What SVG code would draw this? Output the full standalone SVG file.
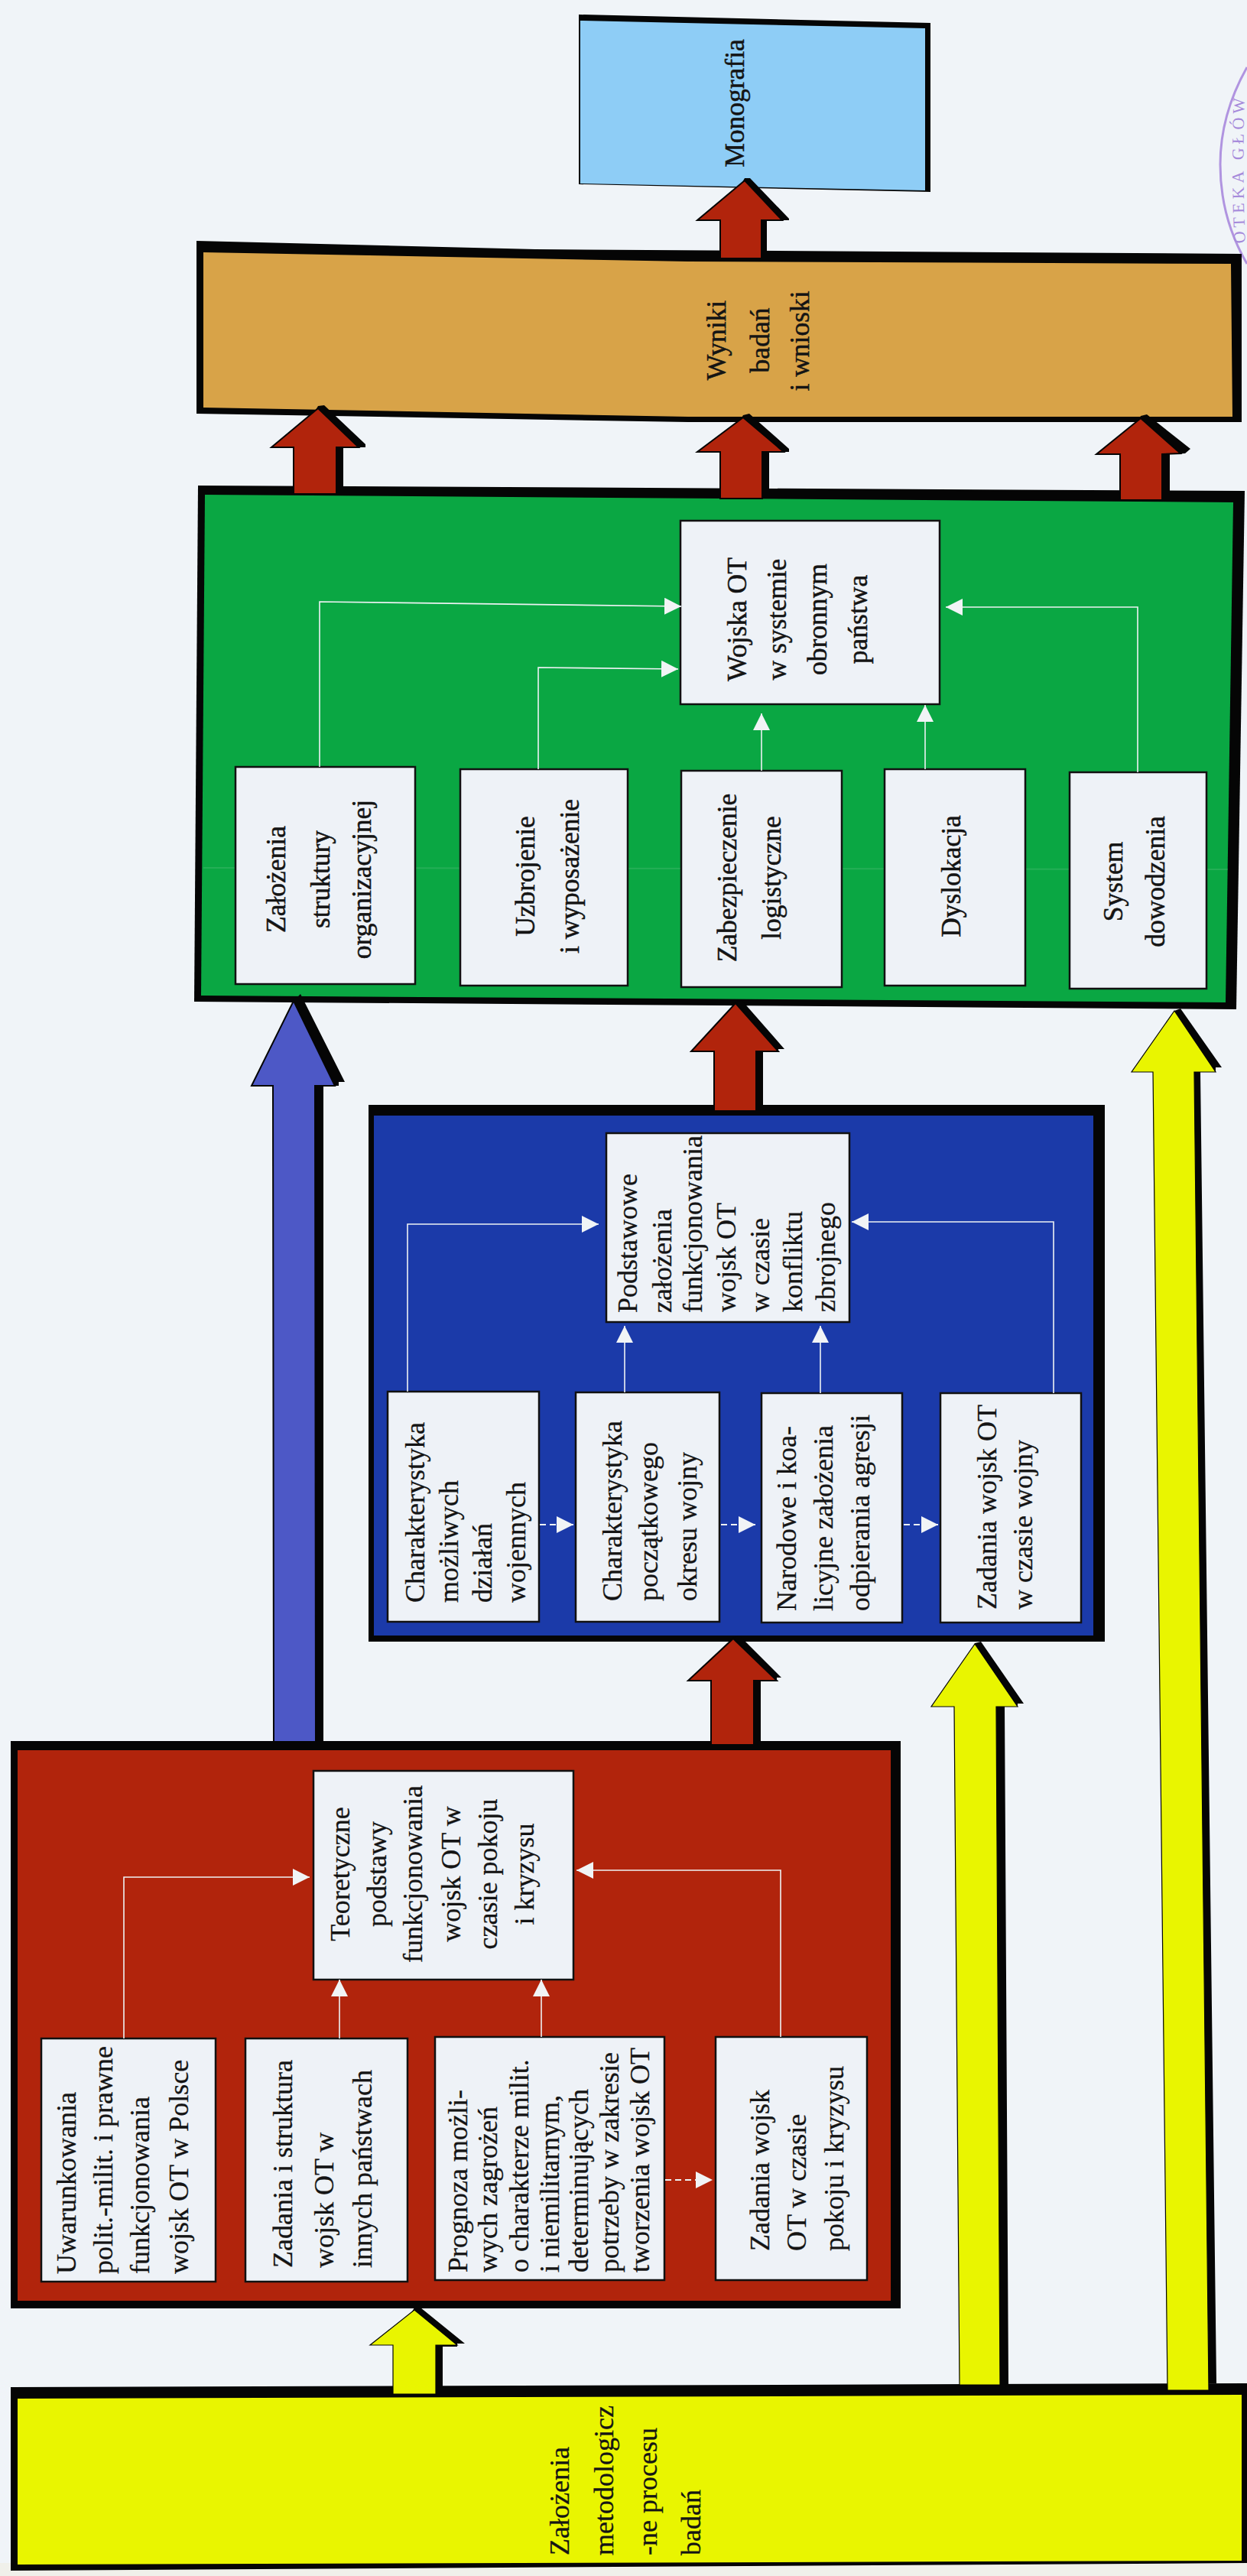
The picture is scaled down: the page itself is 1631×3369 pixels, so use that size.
<svg xmlns="http://www.w3.org/2000/svg" width="1631" height="3369" viewBox="0 0 1631 3369">
<style>
text{font-family:"Liberation Serif","Times New Roman",serif;font-size:36px;fill:#141414;stroke:#141414;stroke-width:.3}
.m{text-anchor:middle}
.g{font-size:35.5px;stroke-width:.5}
.box{fill:#eef2f7;stroke:#111;stroke-width:2.5}
.k{fill:#050505}
.line{fill:none;stroke:#eef2f4;stroke-width:1.6}
.dash{fill:none;stroke:#eef2f4;stroke-width:1.8;stroke-dasharray:8 5}
.ar{stroke:#050505;stroke-width:2;stroke-linejoin:miter}
.thin{stroke-width:1.2}
.red{fill:#b1240c}.yel{fill:#e9f500}.blu{fill:#4d58c6}
</style>
<defs>
<marker id="h" markerUnits="userSpaceOnUse" markerWidth="23" markerHeight="22" refX="22" refY="11" orient="auto"><path d="M0 0L22 11L0 22Z" fill="#f1f4f6"/></marker>
</defs>
<rect id="paper" width="1631" height="3369" fill="#f0f4f8"/>
<rect x="0" y="3352" width="1631" height="17" fill="#f0f0ea"/>
<g id="stamp" fill="none" stroke="#a684dc" stroke-width="3" opacity=".85">
<path d="M1631 88Q1596 150 1596 215Q1596 285 1631 345"/>
<path id="stampArc" d="M1629 322Q1624 215 1629 100" stroke="none"/>
<text stroke="none" style="fill:#9a78d6;stroke:none;font-size:22px;letter-spacing:5px"><textPath href="#stampArc" startOffset="4">OTEKA GŁÓW</textPath></text>
</g>

<g id="n-monografia">
<polygon class="k" points="757,19 1217,30 1217,251 757,241"/>
<polygon points="759,27 1210,37 1210,249 759,240" fill="#8ecdf6"/>
<text class="m g" transform="translate(973,135) rotate(-90)">Monografia</text>
</g>
<g id="n-wyniki">
<polygon class="k" points="257,315 700,326 1624,332 1624,552 900,552 257,541"/>
<polygon points="266,330 900,342 1610,345 1612,545 900,545 266,533" fill="#d8a348"/>
<text class="m g" transform="translate(949,445) rotate(-90)">Wyniki</text>
<text class="m g" transform="translate(1006,445) rotate(-90)">badań</text>
<text class="m g" transform="translate(1058,446) rotate(-90)">i wnioski</text>
</g>
<g id="n-green">
<polygon class="k" points="259,635 1628,642 1617,1320 254,1310"/>
<polygon points="268,647 1613,657 1603,1311 263,1302" fill="#0aa743"/>
<line x1="266" y1="1135" x2="1606" y2="1137" stroke="#b9e0c4" stroke-width="2" opacity=".15"/>
</g>
<g id="n-wojska"><rect class="box" x="890" y="681" width="339" height="240"/>
<text class="m g" transform="translate(976,810) rotate(-90)">Wojska OT</text>
<text class="m g" transform="translate(1028,810) rotate(-90)">w systemie</text>
<text class="m g" transform="translate(1081,810) rotate(-90)">obronnym</text>
<text class="m g" transform="translate(1134,810) rotate(-90)">państwa</text></g>
<g id="n-struktura"><rect class="box" x="308" y="1003" width="235" height="284"/>
<text class="m g" transform="translate(373,1150) rotate(-90)">Założenia</text>
<text class="m g" transform="translate(431,1150) rotate(-90)">struktury</text>
<text class="m g" transform="translate(485,1150) rotate(-90)">organizacyjnej</text></g>
<g id="n-uzbrojenie"><rect class="box" x="602" y="1006" width="219" height="283"/>
<text class="m g" transform="translate(699,1146) rotate(-90)">Uzbrojenie</text>
<text class="m g" transform="translate(757,1146) rotate(-90)">i wyposażenie</text></g>
<g id="n-logistyka"><rect class="box" x="891" y="1008" width="210" height="283"/>
<text class="m g" transform="translate(963,1148) rotate(-90)">Zabezpieczenie</text>
<text class="m g" transform="translate(1021,1148) rotate(-90)">logistyczne</text></g>
<g id="n-dyslokacja"><rect class="box" x="1157" y="1006" width="184" height="283"/>
<text class="m g" transform="translate(1256,1146) rotate(-90)">Dyslokacja</text></g>
<g id="n-dowodzenie"><rect class="box" x="1399" y="1010" width="179" height="283"/>
<text class="m g" transform="translate(1468,1153) rotate(-90)">System</text>
<text class="m g" transform="translate(1523,1153) rotate(-90)">dowodzenia</text></g>

<g id="n-blue">
<rect class="k" x="482" y="1445" width="963" height="702"/>
<rect x="489" y="1459" width="941" height="680" fill="#1b3aa9"/>
</g>
<g id="n-podstawowe"><rect class="box" x="793" y="1482" width="318" height="247"/>
<text transform="translate(833,1717) rotate(-90)">Podstawowe</text>
<text transform="translate(878,1717) rotate(-90)">założenia</text>
<text transform="translate(918,1717) rotate(-90)">funkcjonowania</text>
<text transform="translate(962,1716) rotate(-90)">wojsk OT</text>
<text transform="translate(1006,1716) rotate(-90)">w czasie</text>
<text transform="translate(1049,1716) rotate(-90)">konfliktu</text>
<text transform="translate(1092,1716) rotate(-90)">zbrojnego</text></g>
<g id="n-mozliwe"><rect class="box" x="507" y="1820" width="198" height="301"/>
<text transform="translate(555,2096) rotate(-90)">Charakterystyka</text>
<text transform="translate(599,2096) rotate(-90)">możliwych</text>
<text transform="translate(643,2096) rotate(-90)">działań</text>
<text transform="translate(687,2096) rotate(-90)">wojennych</text></g>
<g id="n-poczatkowy"><rect class="box" x="753" y="1821" width="188" height="300"/>
<text transform="translate(813,2094) rotate(-90)">Charakterystyka</text>
<text transform="translate(860,2094) rotate(-90)">początkowego</text>
<text transform="translate(911,2094) rotate(-90)">okresu wojny</text></g>
<g id="n-narodowe"><rect class="box" x="996" y="1822" width="184" height="300"/>
<text transform="translate(1041,2107) rotate(-90)">Narodowe i koa-</text>
<text transform="translate(1089,2107) rotate(-90)">licyjne założenia</text>
<text transform="translate(1137,2107) rotate(-90)">odpierania agresji</text></g>
<g id="n-zadaniaW"><rect class="box" x="1230" y="1822" width="184" height="300"/>
<text transform="translate(1303,2105) rotate(-90)">Zadania wojsk OT</text>
<text transform="translate(1350,2105) rotate(-90)">w czasie wojny</text></g>

<g id="n-red">
<rect class="k" x="14" y="2277" width="1164" height="742"/>
<rect x="23" y="2289" width="1142" height="720" fill="#b1240c"/>
</g>
<g id="n-teoretyczne"><rect class="box" x="410" y="2316" width="340" height="273"/>
<text class="m" transform="translate(457,2451) rotate(-90)">Teoretyczne</text>
<text class="m" transform="translate(505,2451) rotate(-90)">podstawy</text>
<text class="m" transform="translate(552,2451) rotate(-90)">funkcjonowania</text>
<text class="m" transform="translate(602,2451) rotate(-90)">wojsk OT w</text>
<text class="m" transform="translate(650,2451) rotate(-90)">czasie pokoju</text>
<text class="m" transform="translate(698,2451) rotate(-90)">i kryzysu</text></g>
<g id="n-uwarunkowania"><rect class="box" x="54" y="2666" width="228" height="318"/>
<text transform="translate(99,2974) rotate(-90)">Uwarunkowania</text>
<text transform="translate(147,2974) rotate(-90)">polit.-milit. i prawne</text>
<text transform="translate(195,2974) rotate(-90)">funkcjonowania</text>
<text transform="translate(246,2974) rotate(-90)">wojsk OT w Polsce</text></g>
<g id="n-struktura2"><rect class="box" x="321" y="2666" width="212" height="318"/>
<text transform="translate(382,2966) rotate(-90)">Zadania i struktura</text>
<text transform="translate(436,2966) rotate(-90)">wojsk OT w</text>
<text transform="translate(486,2966) rotate(-90)">innych państwach</text></g>
<g id="n-prognoza"><rect class="box" x="569" y="2664" width="300" height="318"/>
<text transform="translate(611,2972) rotate(-90)">Prognoza możli-</text>
<text transform="translate(650,2972) rotate(-90)">wych zagrożeń</text>
<text transform="translate(691,2972) rotate(-90)">o charakterze milit.</text>
<text transform="translate(731,2972) rotate(-90)">i niemilitarnym,</text>
<text transform="translate(769,2972) rotate(-90)">determinujących</text>
<text transform="translate(809,2972) rotate(-90)">potrzeby w zakresie</text>
<text transform="translate(849,2972) rotate(-90)">tworzenia wojsk OT</text></g>
<g id="n-zadaniaP"><rect class="box" x="936" y="2664" width="198" height="318"/>
<text transform="translate(1006,2944) rotate(-90)">Zadania wojsk</text>
<text transform="translate(1054,2944) rotate(-90)">OT w czasie</text>
<text transform="translate(1103,2944) rotate(-90)">pokoju i kryzysu</text></g>

<g id="n-yellow">
<polygon class="k" points="14,3122 1631,3117 1631,3352 14,3362"/>
<polygon points="23,3137 1624,3132 1624,3349 23,3354" fill="#e9f500"/>
<text transform="translate(744,3342) rotate(-90)">Założenia</text>
<text transform="translate(802,3342) rotate(-90)">metodologicz</text>
<text transform="translate(859,3342) rotate(-90)">-ne procesu</text>
<text transform="translate(916,3342) rotate(-90)">badań</text>
</g>

<g id="connectors">
<g id="thin">
<path class="line" marker-end="url(#h)" d="M162 2666V2455H405"/>
<path class="line" marker-end="url(#h)" d="M444 2666V2589"/>
<path class="line" marker-end="url(#h)" d="M708 2664V2589"/>
<path class="line" marker-end="url(#h)" d="M1021 2664V2446H754"/>
<path class="dash" marker-end="url(#h)" d="M870 2851H932"/>
<path class="line" marker-end="url(#h)" d="M533 1820V1601H783"/>
<path class="line" marker-end="url(#h)" d="M817 1821V1734"/>
<path class="line" marker-end="url(#h)" d="M1073 1822V1734"/>
<path class="line" marker-end="url(#h)" d="M1378 1822V1598H1114"/>
<path class="dash" marker-end="url(#h)" d="M706 1994H750"/>
<path class="dash" marker-end="url(#h)" d="M943 1994H988"/>
<path class="dash" marker-end="url(#h)" d="M1182 1994H1227"/>
<path class="line" marker-end="url(#h)" d="M418 1003V787L891 793"/>
<path class="line" marker-end="url(#h)" d="M704 1006V873L887 875"/>
<path class="line" marker-end="url(#h)" d="M996 1008V933"/>
<path class="line" marker-end="url(#h)" d="M1210 1006V922"/>
<path class="line" marker-end="url(#h)" d="M1488 1010V794H1237"/>
</g>
<g id="block-arrows">
<polygon class="k" points="981,233 1032,286 1032,288 1003,288 1003,338 942,338 942,288 974,233"/>
<polygon class="ar red" points="974,236 1023,288 996,288 996,338 942,338 942,288 912,288"/>
<polygon class="k" points="424,530 478,581 478,585 449,585 449,646 384,646 384,585 416,531"/>
<polygon class="ar red" points="416,534 469,585 440,585 440,646 384,646 384,585 355,585"/>
<polygon class="k" points="980,541 1032,587 1032,591 1006,591 1006,652 942,652 942,591 972,543"/>
<polygon class="ar red" points="972,546 1025,591 997,591 997,652 942,652 942,591 912,591"/>
<polygon class="k" points="1500,542 1557,587 1550,593 1530,594 1530,654 1465,654 1465,594 1492,544"/>
<polygon class="ar red" points="1492,547 1544,593 1520,594 1520,654 1465,654 1465,594 1434,594"/>
<polygon class="k" points="393,1300 451,1415 443,1415 443,1420 423,1420 423,2278 358,2278 358,1420 384,1309"/>
<polygon class="ar blu" points="384,1309 438,1420 412,1420 413,2278 358,2278 357,1420 329,1420"/>
<polygon class="k" points="970,1308 1026,1372 1018,1372 1018,1375 998,1375 998,1453 934,1453 934,1375 962,1311"/>
<polygon class="ar red" points="962,1312 1018,1375 989,1375 989,1453 934,1453 934,1375 904,1375"/>
<polygon class="k" points="967,2139 1022,2194 1016,2194 1016,2198 995,2198 995,2282 930,2282 930,2198 959,2142"/>
<polygon class="ar red" points="959,2143 1016,2198 986,2198 986,2282 930,2282 930,2198 900,2198"/>
<polygon class="k" points="550,3018 608,3065 598,3065 598,3069 579,3069 579,3125 514,3125 514,3067 542,3018"/>
<polygon class="ar yel thin" points="542,3021 598,3067 570,3067 570,3131 514,3131 514,3067 484,3067"/>
<polygon class="k" points="1283,2147 1339,2228 1331,2228 1331,2232 1314,2232 1319,3119 1255,3119 1248,2232 1275,2149"/>
<polygon class="ar yel thin" points="1275,2150 1331,2232 1303,2232 1308,3119 1255,3119 1248,2232 1218,2232"/>
<polygon class="k" points="1544,1319 1598,1396 1590,1396 1590,1402 1570,1402 1591,3117 1527,3117 1508,1402 1536,1322"/>
<polygon class="ar yel thin" points="1536,1322 1590,1402 1562,1402 1581,3126 1527,3126 1508,1402 1480,1402"/>
</g>
</g>
</svg>
